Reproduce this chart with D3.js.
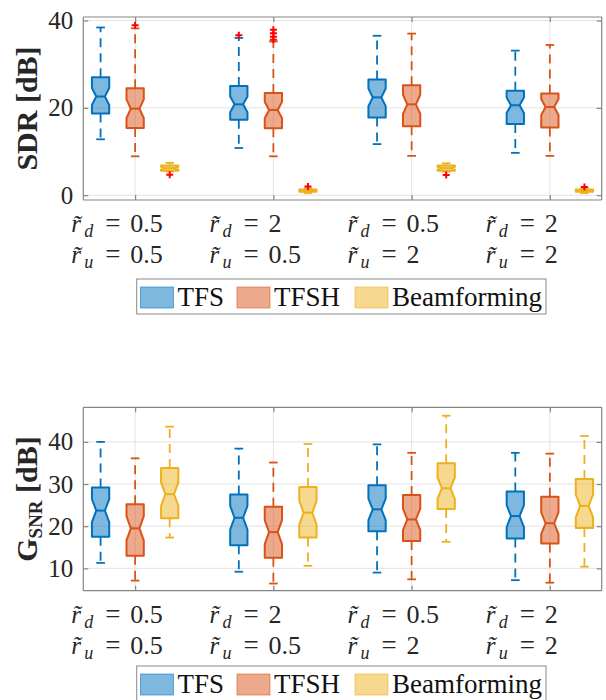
<!DOCTYPE html>
<html><head><meta charset="utf-8">
<script src="https://cdn.jsdelivr.net/npm/d3@7"></script>
<style>
body{margin:0;background:#fff;}
svg{display:block;}
text{font-family:"Liberation Serif","DejaVu Serif",serif;}
</style></head>
<body><svg id="c" width="606" height="700"></svg>
<script>
// ---------- data ----------
const groupLabelsD = ["0.5", "2", "0.5", "2"];
const groupLabelsU = ["0.5", "0.5", "2", "2"];
const methods = ["TFS", "TFSH", "Beamforming"];

// SDR panel
const sdrTFS_lo  = [12.8, 10.8, 11.7, 9.7];
const sdrTFS_q1  = [18.7, 17.3, 17.8, 16.3];
const sdrTFS_med = [22.6, 20.8, 22.4, 20.6];
const sdrTFS_q3  = [27.0, 25.0, 26.5, 23.9];
const sdrTFS_hi  = [38.4, 36.0, 36.5, 33.1];
const sdrTFS_out = [[], [36.6], [], []];

const sdrTFSH_lo  = [8.9, 8.9, 9.0, 9.0];
const sdrTFSH_q1  = [15.4, 15.3, 15.8, 15.5];
const sdrTFSH_med = [19.8, 19.5, 20.8, 20.2];
const sdrTFSH_q3  = [24.5, 23.4, 25.2, 23.3];
const sdrTFSH_hi  = [38.2, 35.2, 37.0, 34.4];
const sdrTFSH_out = [[38.9], [37.9, 37.1, 36.3, 35.6], [], []];

const sdrBF_lo  = [5.4, 0.5, 5.4, 0.5];
const sdrBF_q1  = [5.6, 0.8, 5.6, 0.8];
const sdrBF_med = [6.2, 1.0, 6.2, 1.0];
const sdrBF_q3  = [6.8, 1.3, 6.8, 1.3];
const sdrBF_hi  = [7.4, 1.6, 7.3, 1.6];
const sdrBF_out = [[4.7], [2.0], [4.6], [1.9]];

// G_SNR panel
const gTFS_lo  = [11.3, 9.2, 9.0, 7.2];
const gTFS_q1  = [17.5, 15.5, 18.8, 17.1];
const gTFS_med = [23.7, 22.0, 24.0, 22.4];
const gTFS_q3  = [29.2, 27.5, 29.7, 28.2];
const gTFS_hi  = [40.0, 38.4, 39.4, 37.4];

const gTFSH_lo  = [7.1, 6.4, 7.4, 6.6];
const gTFSH_q1  = [13.0, 12.5, 16.5, 15.9];
const gTFSH_med = [19.5, 18.6, 21.6, 20.7];
const gTFSH_q3  = [25.2, 24.6, 27.4, 27.0];
const gTFSH_hi  = [36.1, 35.1, 37.4, 37.2];

const gBF_lo  = [17.3, 10.6, 16.3, 10.4];
const gBF_q1  = [21.9, 17.3, 24.1, 19.6];
const gBF_med = [27.6, 23.2, 29.0, 24.8];
const gBF_q3  = [33.8, 29.3, 34.9, 31.2];
const gBF_hi  = [43.6, 39.5, 46.2, 41.4];

const sdrTicks = [0, 20, 40];
const gTicks = [10, 20, 30, 40];
const sampleCount = 45; // used for notch extent (1.57*IQR/sqrt(n))

const lineColors = ["#0072BD", "#D95319", "#EDB120"];
const fillColors = ["#7FB8DE", "#ECA98C", "#F6D88F"];

function build(lo, q1, med, q3, hi, out) {
  return lo.map((_, i) => ({lo: lo[i], q1: q1[i], med: med[i], q3: q3[i], hi: hi[i], out: out ? out[i] : []}));
}
const sdrData = [
  build(sdrTFS_lo, sdrTFS_q1, sdrTFS_med, sdrTFS_q3, sdrTFS_hi, sdrTFS_out),
  build(sdrTFSH_lo, sdrTFSH_q1, sdrTFSH_med, sdrTFSH_q3, sdrTFSH_hi, sdrTFSH_out),
  build(sdrBF_lo, sdrBF_q1, sdrBF_med, sdrBF_q3, sdrBF_hi, sdrBF_out)
];
const gData = [
  build(gTFS_lo, gTFS_q1, gTFS_med, gTFS_q3, gTFS_hi),
  build(gTFSH_lo, gTFSH_q1, gTFSH_med, gTFSH_q3, gTFSH_hi),
  build(gBF_lo, gBF_q1, gBF_med, gBF_q3, gBF_hi)
];

// ---------- drawing ----------
const svg = d3.select("#c");
const L = 83.3, R = 601.7;

function panel(opts) {
  const {top, bottom, ydom, yticks, data, ylabel, legendTop} = opts;
  const x = d3.scaleLinear().domain([0.5, 15.5]).range([L, R]);
  const y = d3.scaleLinear().domain(ydom).range([bottom, top]);
  const g = svg.append("g");
  const tickPos = [2, 6, 10, 14];
  const unit = x(1) - x(0);

  // grid
  g.append("g").selectAll("line").data(yticks).join("line")
    .attr("x1", L).attr("x2", R).attr("y1", d => y(d)).attr("y2", d => y(d))
    .attr("stroke", "#e3e3e3").attr("stroke-width", 1);
  g.append("g").selectAll("line").data(tickPos).join("line")
    .attr("x1", d => x(d)).attr("x2", d => x(d)).attr("y1", top).attr("y2", bottom)
    .attr("stroke", "#e3e3e3").attr("stroke-width", 1);

  // boxes
  data.forEach((series, m) => {
    series.forEach((b, gi) => {
      const cx = x(4 * gi + m + 1);
      const hw = 0.25 * unit, inset = hw * 0.5, capw = 0.125 * unit;
      const notch = 1.57 * (b.q3 - b.q1) / Math.sqrt(sampleCount);
      const col = lineColors[m];
      [[b.q3, b.hi], [b.q1, b.lo]].forEach(([a, e]) => {
        g.append("line").attr("x1", cx).attr("x2", cx).attr("y1", y(a)).attr("y2", y(e))
          .attr("stroke", col).attr("stroke-width", 1.8).attr("stroke-dasharray", "9,6");
        g.append("line").attr("x1", cx - capw).attr("x2", cx + capw).attr("y1", y(e)).attr("y2", y(e))
          .attr("stroke", col).attr("stroke-width", 1.8);
      });
      const pts = [
        [cx - hw, y(b.q3)], [cx + hw, y(b.q3)], [cx + hw, y(b.med + notch)],
        [cx + hw - inset, y(b.med)], [cx + hw, y(b.med - notch)], [cx + hw, y(b.q1)],
        [cx - hw, y(b.q1)], [cx - hw, y(b.med - notch)], [cx - hw + inset, y(b.med)],
        [cx - hw, y(b.med + notch)]
      ];
      g.append("path").attr("d", d3.line()(pts) + "Z")
        .attr("fill", col).attr("fill-opacity", 0.5)
        .attr("stroke", col).attr("stroke-width", 2).attr("stroke-linejoin", "round");
      g.append("line").attr("x1", cx - hw + inset).attr("x2", cx + hw - inset)
        .attr("y1", y(b.med)).attr("y2", y(b.med)).attr("stroke", col).attr("stroke-width", 2);
      (b.out || []).forEach(v => {
        const s = 3.5, py = y(v);
        g.append("path").attr("d", `M${cx - s},${py}H${cx + s}M${cx},${py - s}V${py + s}`)
          .attr("stroke", "#FF0000").attr("stroke-width", 2).attr("fill", "none");
      });
    });
  });

  // axes
  const axL = d3.axisLeft(y).tickValues(yticks).tickSize(-5).tickPadding(10).tickFormat(d3.format("d"));
  const axR = d3.axisRight(y).tickValues(yticks).tickSize(-5).tickFormat("");
  const axB = d3.axisBottom(x).tickValues(tickPos).tickSize(-5).tickFormat("");
  const axT = d3.axisTop(x).tickValues(tickPos).tickSize(-5).tickFormat("");
  const styleAx = sel => {
    sel.selectAll("path").attr("stroke", "#858585").attr("stroke-width", 1.2);
    sel.selectAll("line").attr("stroke", "#858585").attr("stroke-width", 1.2);
    sel.selectAll("text").attr("fill", "#262626").style("font-size", "25px")
      .style("font-family", '"Liberation Serif", serif');
  };
  g.append("g").attr("transform", `translate(${L},0)`).call(axL).call(s => s.select(".domain").attr("d", `M0,${top}V${bottom}`)).call(styleAx);
  g.append("g").attr("transform", `translate(${R},0)`).call(axR).call(s => s.select(".domain").attr("d", `M0,${top}V${bottom}`)).call(styleAx);
  g.append("g").attr("transform", `translate(0,${bottom})`).call(axB).call(s => s.select(".domain").attr("d", `M${L},0H${R}`)).call(styleAx);
  g.append("g").attr("transform", `translate(0,${top})`).call(axT).call(s => s.select(".domain").attr("d", `M${L},0H${R}`)).call(styleAx);

  // x tick labels (two lines)
  tickPos.forEach((p, i) => {
    const x0 = x(p) - 64;
    [["d", groupLabelsD[i], bottom + 32], ["u", groupLabelsU[i], bottom + 63]].forEach(([sub, val, by]) => {
      const lab = g.append("g").attr("fill", "#262626");
      lab.append("text").attr("x", x0).attr("y", by).style("font-size", "25px").style("font-style", "italic").text("r\u0303");
      lab.append("text").attr("x", x0 + 13).attr("y", by + 5).style("font-size", "18px").style("font-style", "italic").text(sub);
      lab.append("text").attr("x", x0 + 34).attr("y", by).style("font-size", "27px").text("=");
      lab.append("text").attr("x", x0 + 59).attr("y", by).style("font-size", "26px").text(val);
    });
  });

  // y label
  const yl = g.append("text").attr("transform", `translate(37,${(top + bottom) / 2}) rotate(-90)`)
    .attr("text-anchor", "middle").attr("fill", "#262626").style("font-size", "30px").style("font-weight", "bold");
  ylabel(yl);

  // legend
  const ly = legendTop;
  const lg = g.append("g");
  lg.append("rect").attr("x", 136.7).attr("y", ly).attr("width", 409.3).attr("height", 35)
    .attr("fill", "#fff").attr("stroke", "#8a8a8a").attr("stroke-width", 1);
  const lx = [140.5, 237, 355];
  methods.forEach((mname, m) => {
    lg.append("rect").attr("x", lx[m]).attr("y", ly + 8).attr("width", 33).attr("height", 21)
      .attr("fill", fillColors[m]).attr("stroke", lineColors[m]).attr("stroke-opacity", 0.55).attr("stroke-width", 1);
    lg.append("text").attr("x", lx[m] + 37).attr("y", ly + 27).attr("fill", "#111")
      .style("font-size", "27px").text(mname);
  });
}

panel({
  top: 17, bottom: 200, ydom: [-1.1, 40.8], yticks: sdrTicks, data: sdrData, legendTop: 279,
  ylabel: t => t.text("SDR [dB]")
});
panel({
  top: 407.3, bottom: 590.7, ydom: [4.7, 48.2], yticks: gTicks, data: gData, legendTop: 666,
  ylabel: t => {
    t.append("tspan").text("G");
    t.append("tspan").style("font-size", "19px").attr("dy", 5).text("SNR");
    t.append("tspan").attr("dy", -5).attr("xml:space", "preserve").text(" [dB]");
  }
});
</script></body></html>
